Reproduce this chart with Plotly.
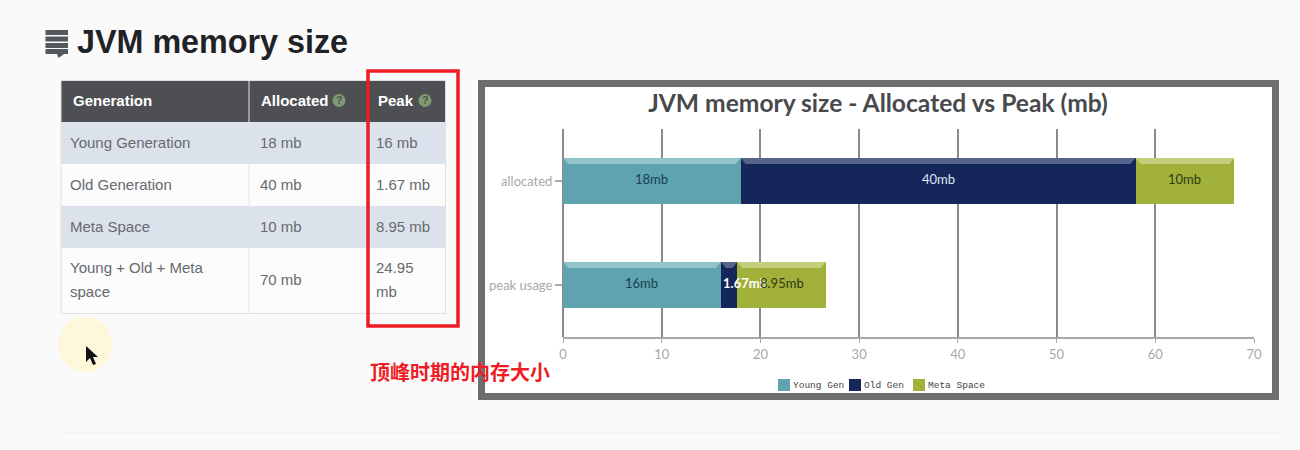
import plotly.graph_objects as go

# ---- chart data ----
categories = ["peak usage", "allocated"]
series_names = ["Young Gen", "Old Gen", "Meta Space"]
young_values = [16, 18]
old_values = [1.67, 40]
meta_values = [8.95, 10]
young_labels = ["16mb", "18mb"]
old_labels = ["1.67mb", "40mb"]
meta_labels = ["8.95mb", "10mb"]
x_ticks = [0, 10, 20, 30, 40, 50, 60, 70]
chart_title = "JVM memory size - Allocated vs Peak (mb)"

# ---- table data ----
table_header = ["Generation", "Allocated", "Peak"]
table_generation = ["Young Generation", "Old Generation", "Meta Space", "Young + Old + Meta<br>space"]
table_allocated = ["18 mb", "40 mb", "10 mb", "70 mb"]
table_peak = ["16 mb", "1.67 mb", "8.95 mb", "24.95<br>mb"]
page_heading = "JVM memory size"
red_note = "顶峰时期的内存大小"

# ---- styles ----
colors = ["#5fa3ae", "#15265a", "#a1b13a"]
top_colors = ["#93c3ca", "#56648c", "#c3cf7c"]
label_colors = ["#173f52", "#dfe6f5", "#2f3a10"]
W, H = 1300, 450
L, R, T, B = 563, 1254, 129, 337


def px(x):
    return (x - L) / (R - L)


def py(y):
    return (B - y) / (B - T)


shapes, annos = [], []


def rect(x0, y0, x1, y1, fill=None, line=None, lw=0, layer="below"):
    shapes.append(dict(type="rect", xref="paper", yref="paper", x0=px(x0), x1=px(x1), y0=py(y0), y1=py(y1),
                       fillcolor=fill, line=dict(color=line, width=lw), layer=layer))


def text(x, y, s, size, color, font="Liberation Sans", anchor="left", bold=False):
    annos.append(dict(xref="paper", yref="paper", x=px(x), y=py(y), text=f"<b>{s}</b>" if bold else s,
                      showarrow=False, xanchor=anchor, yanchor="middle", align="left",
                      font=dict(size=size, color=color, family=font), borderpad=0, borderwidth=0))


all_values = [young_values, old_values, meta_values]
all_labels = [young_labels, old_labels, meta_labels]

fig = go.Figure()
bar_width = 0.44
for name, vals, col in zip(series_names, all_values, colors):
    fig.add_trace(go.Bar(y=categories, x=vals, name=name, orientation="h", width=bar_width,
                         marker=dict(color=col, line=dict(width=0)), showlegend=False))

# bevel strips and bar labels, derived from the data
unit = (R - L) / 70
strip = 6 / ((B - T) / 2)
for i, cat in enumerate(categories):
    start = 0
    for s, (vals, labs) in enumerate(zip(all_values, all_labels)):
        v = vals[i]
        end = start + v
        top = i + bar_width / 2
        dx = 5 / unit
        shapes.append(dict(type="path", xref="x", yref="y", layer="above", line=dict(width=0),
                           fillcolor=top_colors[s],
                           path=f"M{start},{top} L{end},{top} L{end - dx},{top - strip} L{start + dx},{top - strip} Z"))
        narrow = v < 3
        annos.append(dict(xref="x", yref="y", x=start if narrow else start + v / 2, y=cat,
                          text=f"<b>{labs[i]}</b>" if narrow else labs[i],
                          showarrow=False, yshift=2, xanchor="left" if narrow else "center",
                          font=dict(size=13, family="Lato", color="#ffffff" if narrow else label_colors[s])))
        start = end

# page decoration
shapes.append(dict(type="line", xref="paper", yref="paper", x0=px(60), x1=px(1280), y0=py(433), y1=py(433),
                   line=dict(color="#f1f1f1", width=1), layer="below"))
# chart frame
rect(481.5, 83.5, 1275.5, 396.5, fill="#ffffff", line="#6e6e6e", lw=7)

# icon
for y in [30, 36.5, 43, 49]:
    rect(45.5, y, 68, y + 5, fill="#55585b")
shapes.append(dict(type="path", xref="paper", yref="paper", layer="below", fillcolor="#55585b", line=dict(width=0),
                   path=f"M{px(57)},{py(54)} L{px(64)},{py(54)} L{px(58.5)},{py(58)} Z"))
text(77, 42, page_heading, 32.3, "#1f2226", bold=True)

# table
col_x = [61, 249, 366, 445.5]
row_y = [80.5, 122, 164, 206, 248, 313.5]
row_fill = ["#dce2eb", "#fcfcfc", "#dce2eb", "#fcfcfc"]
rect(col_x[0], row_y[0], col_x[3], row_y[1], fill="#4d4f53")
for r in range(4):
    rect(col_x[0], row_y[r + 1], col_x[3], row_y[r + 2], fill=row_fill[r])
rect(col_x[0], row_y[0], col_x[3], row_y[5], line="#e0e0e0", lw=1)
shapes.append(dict(type="line", xref="paper", yref="paper", x0=px(249), x1=px(249), y0=py(row_y[0]), y1=py(row_y[5]),
                   line=dict(color="#e4e4e4", width=1), layer="below"))
header_x = [73, 261, 378]
for x, s in zip(header_x, table_header):
    text(x, 100, s, 15, "#ffffff", bold=True)
for cx in [339, 425]:
    shapes.append(dict(type="circle", xref="paper", yref="paper", x0=px(cx - 6.5), x1=px(cx + 6.5), y0=py(94), y1=py(107),
                       fillcolor="#7f9a70", line=dict(width=0), layer="below"))
    text(cx, 100.5, "?", 10.5, "#4d4f53", anchor="center", bold=True)
body_x = [70, 260, 376]
for r in range(4):
    ymid = (row_y[r + 1] + row_y[r + 2]) / 2 - 1
    for x, col in zip(body_x, [table_generation, table_allocated, table_peak]):
        if "<br>" in col[r]:
            a, b = col[r].split("<br>")
            text(x, ymid - 12, a, 15, "#666a6e")
            text(x, ymid + 12, b, 15, "#666a6e")
        else:
            text(x, ymid, col[r], 15, "#666a6e")

# red highlight + note
shapes.append(dict(type="rect", xref="paper", yref="paper", x0=px(368), x1=px(458), y0=py(71), y1=py(326),
                   line=dict(color="#ee1c25", width=3.5), layer="above"))
text(370, 371, red_note, 20, "#ee1c25", font="Noto Sans CJK SC", bold=True)

# cursor highlight
shapes.append(dict(type="circle", xref="paper", yref="paper", x0=px(58), x1=px(112), y0=py(317), y1=py(372),
                   fillcolor="#fdf8d9", line=dict(width=0), layer="below"))
cursor = [(86, 346), (86, 362), (90, 358), (93, 365), (96, 364), (93, 357), (98, 357)]
shapes.append(dict(type="path", xref="paper", yref="paper", layer="above", fillcolor="#111111", line=dict(width=0),
                   path="M" + " L".join(f"{px(a)},{py(b)}" for a, b in cursor) + " Z"))

# legend
legend_x = [778, 849, 913]
for x, s, c in zip(legend_x, series_names, colors):
    rect(x, 379, x + 12, 391, fill=c)
    text(x + 15, 385, s, 9.5, "#444444", font="Liberation Mono")

fig.update_layout(
    width=W, height=H, autosize=False,
    margin=dict(l=L, r=W - R, t=T, b=H - B, pad=0),
    paper_bgcolor="#fafafa", plot_bgcolor="rgba(0,0,0,0)",
    barmode="stack", showlegend=False,
    title=dict(text=f"<b>{chart_title}</b>", x=878 / W, xanchor="center", y=1 - 103 / H, yanchor="middle",
               font=dict(family="Lato", size=24.6, color="#47494d")),
    shapes=shapes, annotations=annos,
    xaxis=dict(range=[0, 70], tickvals=x_ticks, showgrid=True, gridcolor="#8a8a8a", gridwidth=2,
               zeroline=True, zerolinecolor="#8a8a8a", zerolinewidth=2,
               showline=True, linecolor="#a8a8a8", linewidth=2, ticks="outside", ticklen=4, tickcolor="#a8a8a8",
               tickfont=dict(family="Lato", size=13, color="#a8a8a8")),
    yaxis=dict(type="category", categoryorder="array", categoryarray=categories, range=[-0.5, 1.5],
               showgrid=False, zeroline=False, ticks="outside", ticklen=7, tickcolor="#a8a8a8", tickwidth=2,
               tickfont=dict(family="Lato", size=13, color="#a8a8a8")),
)
fig.write_html("out.html", config={"displayModeBar": False},
               post_script="document.body.style.margin='0';document.body.style.background='#fafafa';")
